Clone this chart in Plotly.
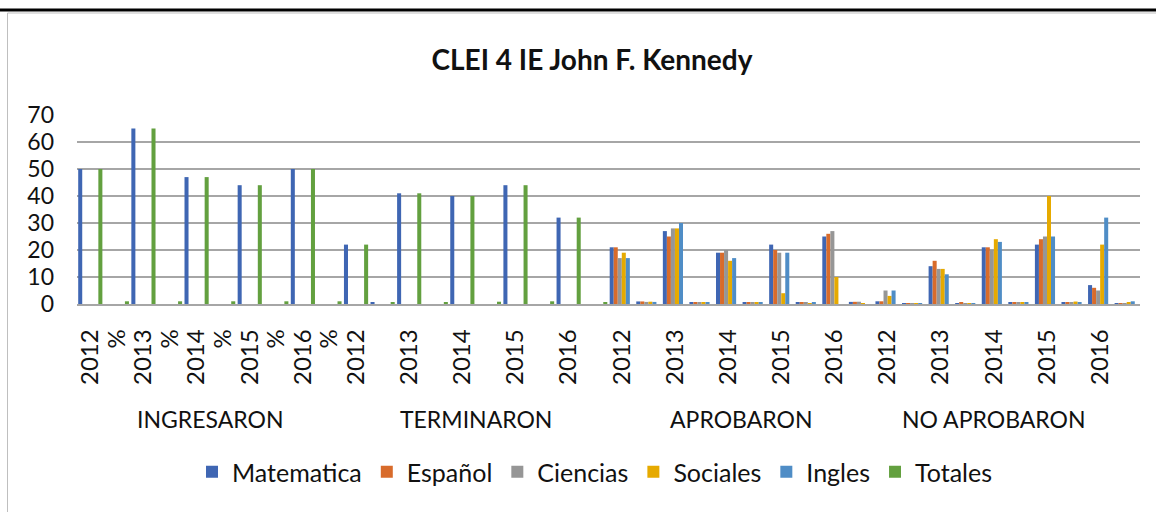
import plotly.graph_objects as go

# ---------------- data ----------------
groups = ["INGRESARON", "TERMINARON", "APROBARON", "NO APROBARON"]
group_spans = [(0, 9), (10, 19), (20, 29), (30, 38)]

tick_labels = (
    ["2012", "%", "2013", "%", "2014", "%", "2015", "%", "2016", "%"]
    + ["2012", "", "2013", "", "2014", "", "2015", "", "2016", ""]
    + ["2012", "", "2013", "", "2014", "", "2015", "", "2016", ""]
    + ["2012", "", "2013", "", "2014", "", "2015", "", "2016", ""]
)

series_names = ["Matematica", "Español", "Ciencias", "Sociales", "Ingles", "Totales"]
series_colors = ["#3F66B3", "#D86B2B", "#969696", "#E6AA00", "#4F8DC6", "#63A03F"]

matematica = ([50, 0, 65, 0, 47, 0, 44, 0, 50, 0]
              + [22, 0.44, 41, 0, 40, 0, 44, 0, 32, 0]
              + [21, 0.95, 27, 0.66, 19, 0.48, 22, 0.5, 25, 0.78]
              + [1, 0.05, 14, 0.34, 21, 0.53, 22, 0.5, 7, 0.22])
espanol = ([0, 0, 0, 0, 0, 0, 0, 0, 0, 0]
           + [0, 0, 0, 0, 0, 0, 0, 0, 0, 0]
           + [21, 0.95, 25, 0.61, 19, 0.48, 20, 0.45, 26, 0.81]
           + [1, 0.05, 16, 0.39, 21, 0.53, 24, 0.55, 6, 0.19])
ciencias = ([0, 0, 0, 0, 0, 0, 0, 0, 0, 0]
            + [0, 0, 0, 0, 0, 0, 0, 0, 0, 0]
            + [17, 0.77, 28, 0.68, 20, 0.5, 19, 0.43, 27, 0.84]
            + [5, 0.23, 13, 0.32, 20, 0.5, 25, 0.57, 5, 0.16])
sociales = ([0, 0, 0, 0, 0, 0, 0, 0, 0, 0]
            + [0, 0, 0, 0, 0, 0, 0, 0, 0, 0]
            + [19, 0.86, 28, 0.68, 16, 0.4, 4, 0.09, 10, 0.31]
            + [3, 0.14, 13, 0.32, 24, 0.6, 40, 0.91, 22, 0.69])
ingles = ([0, 0, 0, 0, 0, 0, 0, 0, 0, 0]
          + [0, 0, 0, 0, 0, 0, 0, 0, 0, 0]
          + [17, 0.77, 30, 0.73, 17, 0.43, 19, 0.43, 0, 0]
          + [5, 0.23, 11, 0.27, 23, 0.58, 25, 0.57, 32, 1.0])
totales = ([50, 1.0, 65, 1.0, 47, 1.0, 44, 1.0, 50, 1.0]
           + [22, 0.44, 41, 0.63, 40, 0.85, 44, 1.0, 32, 0.64]
           + [0, 0, 0, 0, 0, 0, 0, 0, 0, 0]
           + [0, 0, 0, 0, 0, 0, 0, 0, 0, 0])

series_values = [matematica, espanol, ciencias, sociales, ingles, totales]
title_text = "CLEI 4 IE John F. Kennedy"

# ---------------- figure ----------------
FONT = "Lato"
x_idx = list(range(len(tick_labels)))

fig = go.Figure()
for name, color, vals in zip(series_names, series_colors, series_values):
    fig.add_trace(go.Bar(x=x_idx, y=vals, name=name, marker=dict(color=color, line=dict(width=0))))

# plot area in px: x 77..1140, y 115..304
L, R, T, B = 77, 1140, 115, 304
W, H = 1156, 512
pw, ph = R - L, B - T


def px_x(px):
    return (px - L) / pw


def px_y(py):
    return (B - py) / ph


annotations = []
for g, (a, b) in zip(groups, group_spans):
    annotations.append(dict(
        x=(a + b) / 2, xref="x", y=px_y(419), yref="paper",
        text=g, showarrow=False, xanchor="center", yanchor="middle",
        font=dict(family=FONT, size=23, color="#111111")))

shapes = [
    # thin gray chart border: left and top
    dict(type="line", xref="paper", yref="paper",
         x0=px_x(7.5), x1=px_x(7.5), y0=px_y(13), y1=px_y(520),
         line=dict(color="#BFBFBF", width=1)),
    dict(type="line", xref="paper", yref="paper",
         x0=px_x(7.5), x1=px_x(1160), y0=px_y(13), y1=px_y(13),
         line=dict(color="#BFBFBF", width=1)),
    # thick black line at top
    dict(type="line", xref="paper", yref="paper",
         x0=px_x(-5), x1=px_x(1160), y0=px_y(10), y1=px_y(10),
         line=dict(color="#000000", width=3)),
]

fig.update_layout(
    width=W, height=H,
    margin=dict(l=L, r=W - R, t=T, b=H - B, pad=0),
    paper_bgcolor="white", plot_bgcolor="white",
    barmode="group", bargap=0.09, bargroupgap=0,
    title=dict(text="<b>" + title_text + "</b>", x=px_x(592), xref="paper", xanchor="center",
               y=1 - 60 / H, yref="container", yanchor="middle",
               font=dict(family=FONT, size=28, color="#111111")),
    font=dict(family=FONT, color="#111111"),
    xaxis=dict(tickmode="array", tickvals=x_idx, ticktext=tick_labels,
               tickangle=-90, range=[-0.5, len(tick_labels) - 0.5],
               tickfont=dict(family=FONT, size=24, color="#111111"),
               showgrid=False, showline=True, linecolor="#A6A6A6", linewidth=1.5,
               ticks="", ticklabelstandoff=14, zeroline=False),
    yaxis=dict(range=[0, 70], dtick=10, tick0=0,
               tickfont=dict(family=FONT, size=23, color="#111111"),
               showgrid=True, gridcolor="#A6A6A6", gridwidth=1.5,
               zeroline=False, showline=False, ticks="", ticklabelstandoff=22),
    legend=dict(orientation="h", x=px_x(595), xanchor="center", y=px_y(472), yanchor="middle",
                font=dict(family=FONT, size=25, color="#111111"),
                itemwidth=30, traceorder="normal", bgcolor="rgba(0,0,0,0)"),
    annotations=annotations,
    shapes=shapes,
)

fig.write_html("out.html",
               config={"displayModeBar": False},
               post_script="document.body.style.margin='0';document.body.style.overflow='hidden';")
